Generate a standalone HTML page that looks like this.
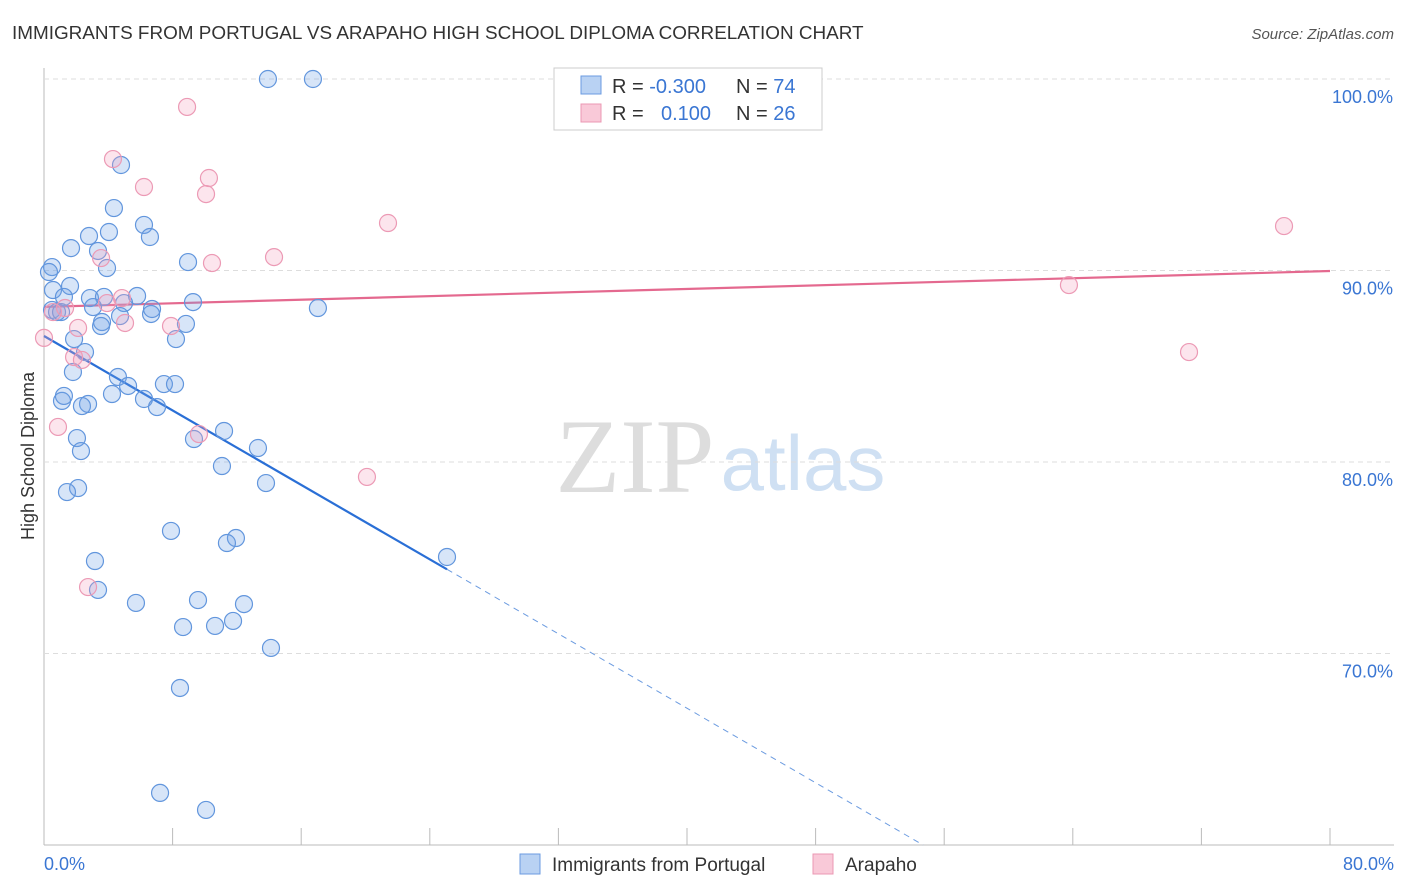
<!DOCTYPE html>
<html><head><meta charset="utf-8"><style>
body{margin:0;background:#fff;font-family:"Liberation Sans",sans-serif}
#wrap{position:relative;width:1406px;height:892px;overflow:hidden}
</style></head><body>
<div id="wrap">
<svg id="svg" width="1406" height="892" xmlns="http://www.w3.org/2000/svg">
<text x="12" y="39" font-size="18.9" fill="#333">IMMIGRANTS FROM PORTUGAL VS ARAPAHO HIGH SCHOOL DIPLOMA CORRELATION CHART</text>
<text x="1394" y="39" font-size="15" fill="#555" font-style="italic" text-anchor="end">Source: ZipAtlas.com</text>
<text transform="translate(34,456) rotate(-90)" font-size="18" fill="#333" text-anchor="middle">High School Diploma</text>
<g>
<text x="635" y="492" font-size="106" font-family="Liberation Serif,serif" fill="#ddd" text-anchor="middle">ZIP</text>
<text x="803" y="490" font-size="78" fill="#cfe0f3" text-anchor="middle">atlas</text>
</g>
<g id="grid"></g><g id="lines"></g><g id="pts"></g>
<g>
<rect x="554" y="68" width="268" height="62" fill="#fff" stroke="#ccc"/>
<rect x="581" y="76" width="20" height="18" fill="#b9d2f3" stroke="#6b9be0"/>
<rect x="581" y="104" width="20" height="18" fill="#f9c9d8" stroke="#eb98b3"/>
<text x="612" y="93" font-size="20" fill="#333">R = <tspan fill="#3a76d3">-0.300</tspan></text>
<text x="736" y="93" font-size="20" fill="#333">N = <tspan fill="#3a76d3">74</tspan></text>
<text x="612" y="120" font-size="20" fill="#333">R = <tspan fill="#3a76d3" x="661">0.100</tspan></text>
<text x="736" y="120" font-size="20" fill="#333">N = <tspan fill="#3a76d3">26</tspan></text>
</g>
<g>
<rect x="520" y="854" width="20" height="20" fill="#b9d2f3" stroke="#6b9be0"/>
<text x="552" y="871" font-size="19" fill="#333">Immigrants from Portugal</text>
<rect x="813" y="854" width="20" height="20" fill="#f9c9d8" stroke="#eb98b3"/>
<text x="845" y="871" font-size="19" fill="#333">Arapaho</text>
</g>
</svg>
</div>
<script>
const yTicks=[100,90,80,70];
const yTickLabels=["100.0%","90.0%","80.0%","70.0%"];
const xTicks=[0,8,16,24,32,40,48,56,64,72,80];
const xTickLabels=["0.0%","80.0%"];
const blueX=[13.93,16.73,4.79,4.35,6.22,6.59,4.04,2.80,1.68,3.36,8.96,3.92,0.50,0.31,1.62,0.56,5.79,1.24,2.86,3.73,4.98,9.27,17.04,3.05,0.50,0.81,1.06,6.66,6.72,3.61,8.83,3.55,4.73,8.21,1.87,2.55,1.80,4.60,5.23,7.46,8.15,4.23,6.22,1.12,1.24,2.74,2.36,7.03,11.20,2.05,9.33,13.31,2.30,11.07,13.81,2.12,1.43,25.07,7.90,11.94,11.38,3.17,3.36,5.72,9.58,12.44,8.65,10.64,11.76,14.12,8.46,7.22,10.08];
const blueY=[100,100,95.51,93.26,92.38,91.75,92.01,91.80,91.17,91.02,90.44,90.13,90.18,89.92,89.19,88.98,88.67,88.62,88.56,88.62,88.30,88.35,88.04,88.09,87.94,87.83,87.83,87.73,87.99,87.31,87.21,87.10,87.62,86.42,86.42,85.74,84.70,84.44,83.97,84.07,84.07,83.55,83.29,83.19,83.45,83.03,82.92,82.87,81.62,81.25,81.20,80.73,80.57,79.79,78.90,78.64,78.43,75.04,76.40,76.03,75.77,74.83,73.32,72.64,72.79,72.58,71.38,71.44,71.70,70.29,68.20,62.72,61.83];
const pinkX=[8.90,4.29,6.22,10.26,10.08,21.40,77.14,14.31,10.45,3.55,63.76,4.85,3.92,0.56,1.31,7.90,5.04,2.12,0,1.87,2.36,71.23,20.09,0.87,9.64,2.74];
const pinkY=[98.54,95.82,94.36,94.83,93.99,92.48,92.32,90.70,90.39,90.65,89.24,88.56,88.30,87.83,88.04,87.10,87.26,87.00,86.48,85.48,85.33,85.74,79.22,81.83,81.46,73.47];
const blueTrend=[86.58,-0.486];const blueSolidEnd=25.07;
const pinkTrend=[88.10,0.0234];
const NS="http://www.w3.org/2000/svg";
const X=v=>44+v*(1286/80), Y=v=>79+(100-v)*19.15;
function mk(t,a,p){const e=document.createElementNS(NS,t);for(const k in a)e.setAttribute(k,a[k]);p.appendChild(e);return e;}
const grid=document.getElementById('grid');
mk('line',{x1:44,y1:68,x2:44,y2:845,stroke:'#bbb'},grid);
mk('line',{x1:44,y1:845,x2:1394,y2:845,stroke:'#bbb'},grid);
yTicks.forEach((t,i)=>{
 const l=mk('line',{x1:44,y1:Y(t),x2:1394,y2:Y(t),stroke:'#ddd','stroke-dasharray':'5,4'},grid);
 
 
 const tx=mk('text',{x:1393,y:Y(t)+24,'font-size':18,fill:'#3a76d3','text-anchor':'end'},grid);tx.textContent=yTickLabels[i];
 
 
});
xTicks.forEach(t=>{const l=mk('line',{x1:X(t),y1:828,x2:X(t),y2:845,stroke:'#bbb'},grid);
 
 });
[[0,44,'start'],[80,1394,'end']].forEach((d,i)=>{const tx=mk('text',{x:d[1],y:870,'font-size':18,fill:'#3a76d3','text-anchor':d[2]},grid);tx.textContent=xTickLabels[i];
 
 });
const pts=document.getElementById('pts');
blueX.forEach((x,i)=>{const c=mk('circle',{cx:X(x),cy:Y(blueY[i]),r:8.5,fill:'rgba(110,160,230,0.28)',stroke:'#6296dd','stroke-width':1.2},pts);
 
 });
pinkX.forEach((x,i)=>{const c=mk('circle',{cx:X(x),cy:Y(pinkY[i]),r:8.5,fill:'rgba(245,160,190,0.28)',stroke:'#ec9ab5','stroke-width':1.2},pts);
 
 });
const lines=document.getElementById('lines');
const bt=x=>blueTrend[0]+blueTrend[1]*x, pt=x=>pinkTrend[0]+pinkTrend[1]*x;
const xEnd=(60-blueTrend[0])/blueTrend[1];
let l=mk('line',{x1:X(0),y1:Y(bt(0)),x2:X(blueSolidEnd),y2:Y(bt(blueSolidEnd)),stroke:'#2a6fd6','stroke-width':2.2},lines);


l=mk('line',{x1:X(blueSolidEnd),y1:Y(bt(blueSolidEnd)),x2:X(xEnd),y2:Y(60),stroke:'#6b9be0','stroke-width':1,'stroke-dasharray':'6,5'},lines);


l=mk('line',{x1:X(0),y1:Y(pt(0)),x2:X(80),y2:Y(pt(80)),stroke:'#e4698f','stroke-width':2.2},lines);


</script>
</body></html>
